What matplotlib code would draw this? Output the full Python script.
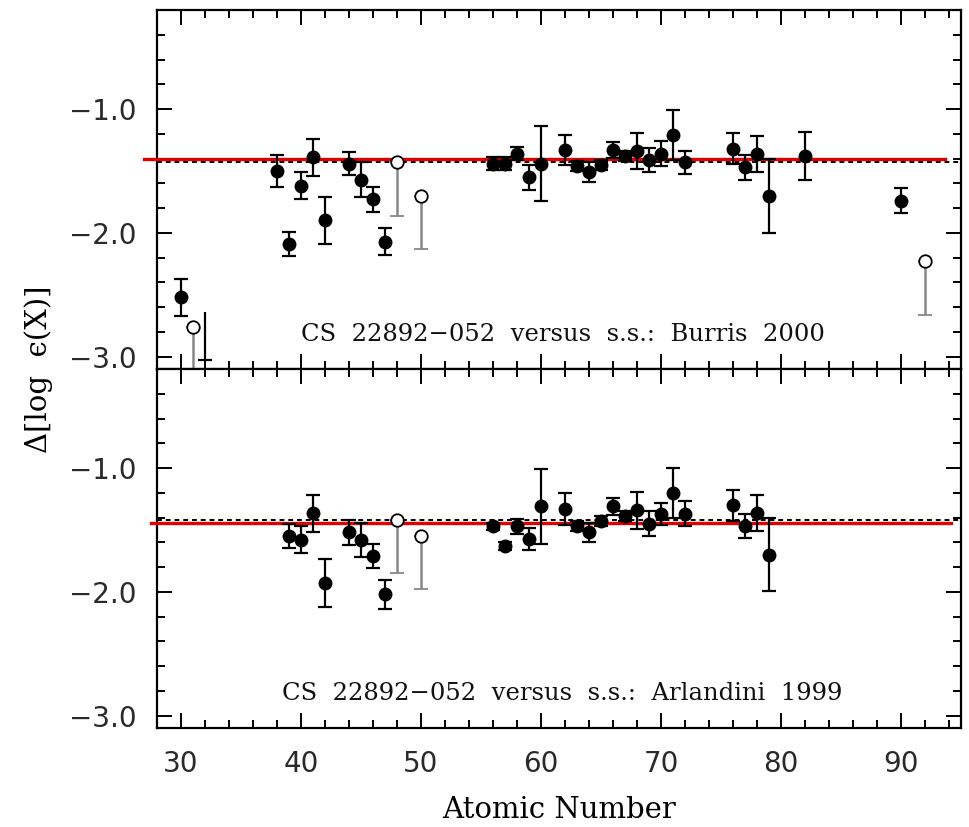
import numpy as np
import matplotlib
matplotlib.use("Agg")
import matplotlib.pyplot as plt
from matplotlib.ticker import MultipleLocator

# ---- top panel: CS 22892-052 vs s.s. (Burris 2000) ----
top_z   = [30, 38, 39, 40, 41, 42, 44, 45, 46, 47, 56, 57, 58, 59, 60, 62, 63, 64,
           65, 66, 67, 68, 69, 70, 71, 72, 76, 77, 78, 79, 82, 90]
top_val = [-2.52, -1.50, -2.09, -1.62, -1.39, -1.90, -1.44, -1.57, -1.73, -2.07,
           -1.44, -1.44, -1.36, -1.55, -1.44, -1.33, -1.46, -1.51, -1.45, -1.33,
           -1.38, -1.34, -1.41, -1.36, -1.21, -1.43, -1.32, -1.47, -1.36, -1.70,
           -1.38, -1.74]
top_err = [0.15, 0.13, 0.10, 0.11, 0.15, 0.19, 0.09, 0.14, 0.10, 0.11,
           0.05, 0.05, 0.05, 0.10, 0.30, 0.12, 0.04, 0.08, 0.04, 0.065,
           0.04, 0.145, 0.095, 0.10, 0.20, 0.095, 0.125, 0.10, 0.145, 0.30,
           0.195, 0.10]
# open symbols: value and lower end of the bar
top_open_z   = [31, 48, 50, 92]
top_open_val = [-2.76, -1.43, -1.70, -2.23]
top_open_low = [-3.25, -1.86, -2.13, -2.66]
# bar with no visible symbol
top_bare_z   = [32]
top_bare_hi  = [-2.64]
top_bare_lo  = [-3.03]
top_mean   = -1.405
top_dotted = -1.43
top_label  = "CS  22892\u2212052  versus  s.s.:  Burris  2000"

# ---- bottom panel: CS 22892-052 vs s.s. (Arlandini 1999) ----
bot_z   = [39, 40, 41, 42, 44, 45, 46, 47, 56, 57, 58, 59, 60, 62, 63, 64, 65,
           66, 67, 68, 69, 70, 71, 72, 76, 77, 78, 79]
bot_val = [-1.55, -1.58, -1.365, -1.93, -1.52, -1.58, -1.71, -2.02, -1.47, -1.63,
           -1.47, -1.575, -1.31, -1.33, -1.47, -1.52, -1.43, -1.31, -1.39, -1.34,
           -1.45, -1.37, -1.20, -1.37, -1.30, -1.47, -1.36, -1.70]
bot_err = [0.095, 0.11, 0.15, 0.195, 0.10, 0.14, 0.10, 0.115, 0.03, 0.03,
           0.06, 0.09, 0.30, 0.13, 0.04, 0.08, 0.04, 0.07, 0.04, 0.15,
           0.10, 0.09, 0.20, 0.10, 0.125, 0.095, 0.145, 0.295]
bot_open_z   = [48, 50]
bot_open_val = [-1.42, -1.55]
bot_open_low = [-1.85, -1.98]
bot_mean   = -1.444
bot_dotted = -1.42
bot_label  = "CS  22892\u2212052  versus  s.s.:  Arlandini  1999"

x_range = (28, 95)
y_range = (-3.1, -0.2)
yticks = [-3.0, -2.0, -1.0]

SERIF = ["DejaVu Serif"]
TICKFONT = "DejaVu Sans"

fig = plt.figure(figsize=(9.7, 8.27), dpi=100)
ax_top = fig.add_axes([0.1619, 0.5538, 0.8288, 0.4341])
ax_bot = fig.add_axes([0.1619, 0.1197, 0.8288, 0.4341], sharex=ax_top)


def draw_panel(ax, z, val, err, oz, oval, olow, mean, dotted, label,
               red_span, bare=None):
    ax.errorbar(z, val, yerr=err, fmt="o", color="black", ms=9, lw=1.6,
                capsize=5, capthick=1.6, zorder=4)
    low = np.array(oval) - np.array(olow)
    ax.errorbar(oz, oval, yerr=[low, np.zeros_like(low)], fmt="o",
                mfc="white", mec="black", mew=1.3, ms=9, ecolor="#888888",
                lw=1.8, capsize=5, capthick=1.6, zorder=4)
    if bare is not None:
        bz, bhi, blo = bare
        ax.vlines(bz, blo, bhi, color="black", lw=1.6, zorder=4)
        ax.plot(bz, blo, marker="_", ms=10, mew=1.6, color="black",
                ls="none", zorder=4)
    ax.axhline(dotted, color="black", lw=1.4, ls=(0, (2.5, 2)), zorder=2)
    ax.plot(red_span, [mean, mean], color="#e00000", lw=2.4,
            clip_on=False, zorder=3)
    ax.text(61.8, -2.82, label, ha="center", va="center", fontsize=17.5,
            family=SERIF, color="#111111")
    ax.set_xlim(*x_range)
    ax.set_ylim(*y_range)
    ax.set_yticks(yticks)
    ax.yaxis.set_minor_locator(MultipleLocator(0.2))
    ax.xaxis.set_major_locator(MultipleLocator(10))
    ax.xaxis.set_minor_locator(MultipleLocator(2))
    ax.yaxis.set_major_formatter(plt.FuncFormatter(lambda v, p: f"\u2212{abs(v):.1f}"))
    ax.tick_params(which="both", direction="in", top=True, right=True,
                   width=1.4, color="black")
    ax.tick_params(which="major", length=11, labelsize=20, pad=15,
                   labelcolor="#2a2a2a")
    ax.tick_params(which="minor", length=6)
    for lab in ax.get_yticklabels() + ax.get_xticklabels():
        lab.set_fontfamily(TICKFONT)
    for sp in ax.spines.values():
        sp.set_linewidth(1.6)


draw_panel(ax_top, top_z, top_val, top_err, top_open_z, top_open_val,
           top_open_low, top_mean, top_dotted, top_label, [26.9, 93.7],
           bare=(top_bare_z, top_bare_hi, top_bare_lo))
draw_panel(ax_bot, bot_z, bot_val, bot_err, bot_open_z, bot_open_val,
           bot_open_low, bot_mean, bot_dotted, bot_label, [27.5, 94.2])

ax_top.tick_params(labelbottom=False)
ax_bot.tick_params(axis="x", pad=16)

ax_bot.set_xlabel("Atomic Number", fontsize=21, family=SERIF, labelpad=13)
fig.text(0.04, 0.554, "\u0394[log  \u03f5(X)]", rotation=90, ha="center",
         va="center", fontsize=21, family=SERIF)

fig.savefig("out.png", dpi=100)
